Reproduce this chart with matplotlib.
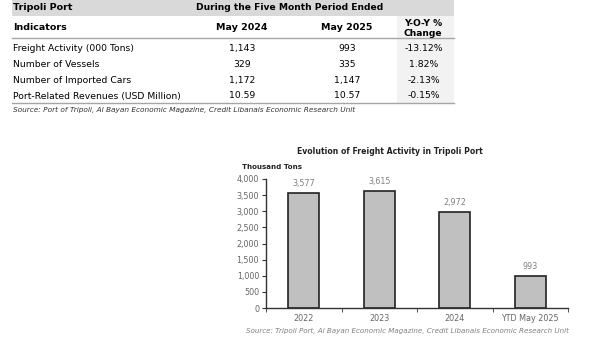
import matplotlib
matplotlib.use("Agg")
import matplotlib.pyplot as plt
from matplotlib.patches import Rectangle
from matplotlib.lines import Line2D

# ---- data ----
indicators = ["Freight Activity (000 Tons)", "Number of Vessels",
              "Number of Imported Cars", "Port-Related Revenues (USD Million)"]
may2024 = ["1,143", "329", "1,172", "10.59"]
may2025 = ["993", "335", "1,147", "10.57"]
yoy = ["-13.12%", "1.82%", "-2.13%", "-0.15%"]

years = ["2022", "2023", "2024", "YTD May 2025"]
freight = [3577, 3615, 2972, 993]
yticks = [0, 500, 1000, 1500, 2000, 2500, 3000, 3500, 4000]

W, H = 601, 356
fig = plt.figure(figsize=(W / 100, H / 100), dpi=100)
plt.rcParams['font.family'] = ['DejaVu Sans']

def fx(x): return x / W
def fy(y): return 1 - y / H

def rect(x0, y0, x1, y1, color):
    fig.patches.append(Rectangle((fx(x0), fy(y1)), fx(x1) - fx(x0), fy(y0) - fy(y1),
                                 transform=fig.transFigure, facecolor=color,
                                 edgecolor='none', zorder=0))

def hline(x0, x1, y, color='#a6a6a6', lw=1.0):
    fig.lines.append(Line2D([fx(x0), fx(x1)], [fy(y), fy(y)], transform=fig.transFigure,
                            color=color, lw=lw))

def txt(x, y, s, ha='left', size=7.2, weight='normal', color='black', style='normal'):
    fig.text(fx(x), fy(y), s, ha=ha, va='center', fontsize=size, fontweight=weight,
             color=color, style=style)

# ---- table ----
L, R = 12, 454
rect(L, 0, R, 16, '#d9d9d9')
rect(397, 16, R, 103, '#f2f2f2')
hline(L, R, 38)
hline(L, R, 103)
txt(13, 8, "Tripoli Port", weight='bold', size=6.8)
txt(290, 8, "During the Five Month Period Ended", ha='center', weight='bold', size=6.6)
txt(13, 28, "Indicators", weight='bold', size=6.8)
txt(242, 28, "May 2024", ha='center', weight='bold', size=6.8)
txt(347, 28, "May 2025", ha='center', weight='bold', size=6.8)
txt(423, 23, "Y-O-Y %", ha='center', weight='bold', size=6.6)
txt(423, 34, "Change", ha='center', weight='bold', size=6.6)
row_y = [48.5, 64.5, 80.5, 96]
for i, y in enumerate(row_y):
    txt(13, y, indicators[i], size=6.7)
    txt(242, y, may2024[i], ha='center', size=6.7)
    txt(347, y, may2025[i], ha='center', size=6.7)
    txt(424, y, yoy[i], ha='center', size=6.7)
txt(13, 110, "Source: Port of Tripoli, Al Bayan Economic Magazine, Credit Libanais Economic Research Unit",
    size=5.3, style='italic', color='#333333')

# ---- chart ----
ax_l, ax_r, ax_t, ax_b = 266, 568, 179, 308
ax = fig.add_axes([fx(ax_l), fy(ax_b), fx(ax_r) - fx(ax_l), fy(ax_t) - fy(ax_b)])
xs = list(range(len(years)))
bars = ax.bar(xs, freight, width=0.41, color='#c0c0c0', edgecolor='#222222', linewidth=1.2)
for x, v in zip(xs, freight):
    ax.annotate(f"{v:,}", (x, v), xytext=(0, 5), textcoords='offset pixels',
                ha='center', va='bottom', fontsize=5.8, color='#808080')
ax.set_xlim(-0.5, len(years) - 0.5)
ax.set_ylim(0, 4000)
ax.set_yticks(yticks)
ax.set_yticklabels([f"{t:,}" for t in yticks], fontsize=5.8, color='#666666')
ax.set_xticks(xs)
ax.set_xticklabels(years, fontsize=5.8, color='#666666')
ax.set_xticks([x - 0.5 for x in range(len(years) + 1)], minor=True)
ax.tick_params(axis='x', which='major', length=0, pad=4)
ax.tick_params(axis='x', which='minor', length=3, color='#333333', direction='out')
ax.tick_params(axis='y', length=3, color='#333333', pad=2)
for s in ['top', 'right']:
    ax.spines[s].set_visible(False)
for s in ['left', 'bottom']:
    ax.spines[s].set_color('#333333')
    ax.spines[s].set_linewidth(1.0)

txt(390, 152, "Evolution of Freight Activity in Tripoli Port", ha='center', weight='bold',
    size=5.6, color='#222222')
txt(242, 167, "Thousand Tons", ha='left', weight='bold', size=5.1, color='#222222')
txt(407, 331, "Source: Tripoli Port, Al Bayan Economic Magazine, Credit Libanais Economic Research Unit",
    ha='center', size=5.1, style='italic', color='#808080')

fig.savefig("out.png", dpi=100)
